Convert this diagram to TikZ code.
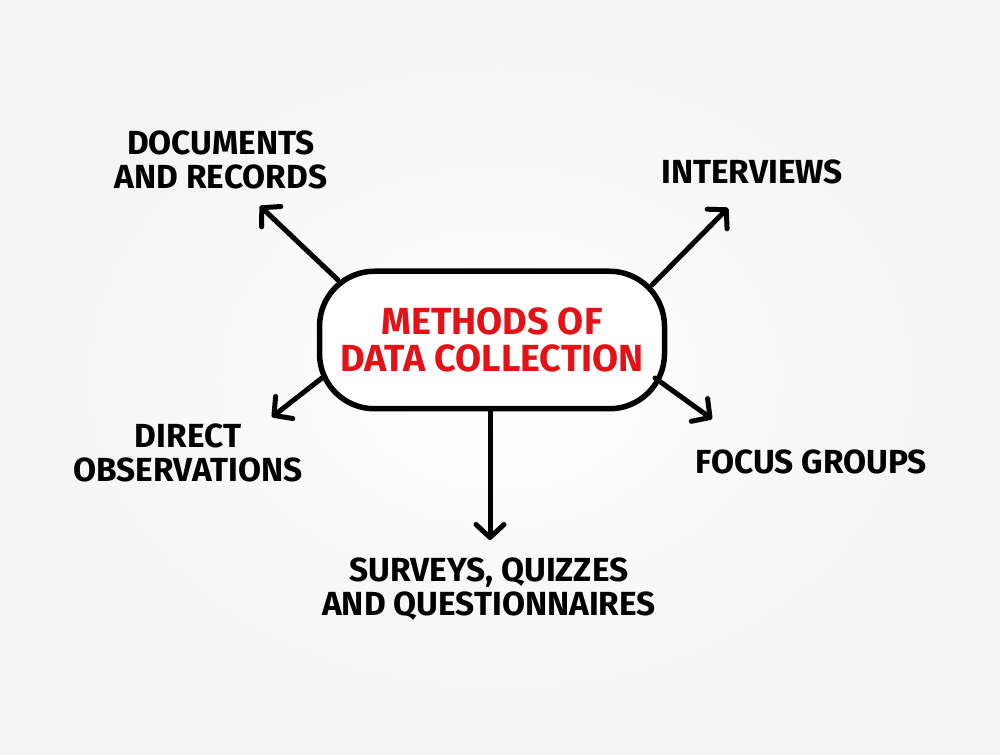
\documentclass[tikz,border=0pt]{standalone}
\usepackage{fontspec}
\setmainfont{Fira Sans}
\usetikzlibrary{arrows.meta,calc}
\definecolor{tred}{RGB}{226,18,22}
\begin{document}
\begin{tikzpicture}[x=0.2mm,y=-0.2mm,
  lbl/.style={font=\bfseries\fontsize{19}{19}\selectfont, align=center, inner sep=0pt, text=black},
  arr/.style={line width=1mm, line cap=round, -{Straight Barb[length=2.6mm,width=5.6mm,line width=1mm,round]}},
  hub/.style={draw=black, line width=1.1mm, fill=white, rounded corners=11mm, minimum width=69mm, minimum height=27.5mm, align=center, font=\bfseries\fontsize{21.5}{21}\selectfont, text=tred}]
\useasboundingbox (0,0) rectangle (1000,755);
\shade[inner color=white, outer color=gray!9] (0,0) rectangle (1000,755);
\node[hub] (c) at (492,340) {METHODS OF\\DATA COLLECTION};
\node[lbl] (doc) at (221,160) {DOCUMENTS\\AND RECORDS};
\node[lbl] (int) at (752,172) {INTERVIEWS};
\node[lbl] (obs) at (188,453) {DIRECT\\OBSERVATIONS};
\node[lbl] (foc) at (811,462) {FOCUS GROUPS};
\node[lbl] (sur) at (489,589) {SURVEYS, QUIZZES\\AND QUESTIONNAIRES};
\coordinate (s1) at (338,280);
\coordinate (e1) at (260,206);
\coordinate (s2) at (652,285);
\coordinate (e2) at (728,208);
\coordinate (s3) at (322,378);
\coordinate (e3) at (272,417);
\coordinate (s4) at (655,378);
\coordinate (e4) at (712,419);
\coordinate (s5) at (490,410);
\coordinate (e5) at (490,540);
\draw[arr] (s1) -- (e1);
\draw[arr] (s2) -- (e2);
\draw[arr] (s3) -- (e3);
\draw[arr] (s4) -- (e4);
\draw[arr] (c.south -| s5) -- (e5);
\end{tikzpicture}
\end{document}
